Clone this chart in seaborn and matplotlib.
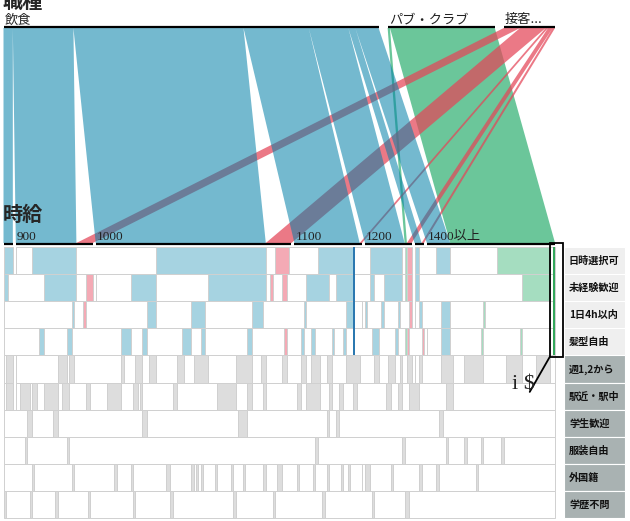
import numpy as np
import seaborn as sns
import matplotlib
matplotlib.use("Agg")
import matplotlib.pyplot as plt
from matplotlib.patches import Rectangle, PathPatch
from matplotlib.path import Path

# ---------------- data ----------------
job_types = ["飲食", "パブ・クラブ", "接客..."]
wage_labels = ["", "900", "1000", "1100", "1200", "", "1400以上"]
# number of jobs in each wage bracket, per job type
count_food = [4, 26, 73, 28, 17, 3, 10]
count_pub = [0, 0, 0, 0, 1, 0, 45]
count_host = [0, 7, 11, 1, 2, 1, 0]

attr_names = ["日時選択可", "未経験歓迎", "1日4h以内", "髪型自由", "週1,2から",
              "駅近・駅中", "学生歓迎", "服装自由", "外国籍", "学歴不問"]
# jobs (ordered by wage, then job type) having each attribute: inclusive index ranges
attr_0 = [(0, 3), (11, 29), (63, 109), (114, 119), (131, 145), (152, 165), (167, 169),
          (170, 171), (178, 183), (204, 226)]
attr_1 = [(0, 1), (16, 29), (34, 36), (52, 62), (85, 109), (112, 112), (117, 118), (126, 135),
          (139, 145), (152, 153), (158, 165), (167, 169), (170, 171), (215, 226)]
attr_2 = [(28, 28), (33, 33), (59, 62), (78, 83), (104, 108), (125, 125), (143, 145), (150, 150),
          (157, 157), (164, 164), (169, 169), (172, 172), (180, 183), (198, 198)]
attr_3 = [(14, 15), (26, 27), (48, 51), (57, 58), (74, 77), (82, 83), (102, 103), (118, 118),
          (124, 124), (128, 129), (137, 137), (142, 142), (153, 155), (163, 163), (167, 168),
          (173, 173), (180, 183), (197, 197), (214, 214)]
attr_4 = [(1, 3), (22, 25), (27, 28), (48, 48), (54, 56), (60, 62), (72, 74), (79, 84), (97, 103),
          (108, 109), (117, 118), (124, 125), (128, 131), (135, 136), (143, 148), (154, 155),
          (160, 162), (165, 165), (168, 169), (172, 172), (180, 184), (190, 197), (208, 214),
          (221, 226)]
attr_5 = [(1, 3), (6, 9), (11, 12), (16, 21), (24, 26), (34, 35), (42, 47), (53, 54), (56, 56),
          (70, 71), (89, 96), (102, 103), (109, 109), (122, 123), (126, 131), (136, 136),
          (140, 141), (146, 147), (159, 160), (164, 165), (169, 171), (182, 184)]
attr_6 = [(9, 10), (20, 21), (57, 58), (98, 101), (135, 135), (139, 139), (179, 180)]
attr_7 = [(8, 8), (26, 26), (130, 130), (166, 166), (182, 182), (190, 190), (197, 197), (206, 206)]
attr_8 = [(11, 11), (28, 28), (45, 45), (52, 52), (67, 68), (78, 78), (80, 80), (82, 82), (88, 88),
          (95, 95), (100, 100), (109, 109), (115, 116), (122, 122), (129, 129), (135, 135),
          (141, 141), (144, 144), (150, 151), (161, 161), (172, 172), (178, 178), (195, 195)]
attr_9 = [(0, 0), (10, 10), (21, 21), (35, 35), (53, 53), (69, 69), (96, 96), (113, 113),
          (133, 133), (153, 153), (167, 168)]
selected_rows = 4          # first 4 attributes are active (coloured)
highlight_jobs = [146, 228]
annotated_job = 228
annotation_text = "i $"

# ---------------- style ----------------
sns.set_theme(style="white")
plt.rcParams["font.family"] = ["Noto Sans CJK JP", "DejaVu Sans"]
ribbon_base = ["#0280a8", "#2daf70", "#e44558"]
ribbon_alpha = [0.55, 0.7, 0.72]
ribbon_z = [3, 1, 2]
light_col = ["#a6d3e1", "#a5ddc0", "#f4aab5"]
dark_col = ["#2b78b0", "#34a85c", "#d8404f"]
gray_fill = "#dddddd"
border = "#d0d0d0"

fig = plt.figure(figsize=(6.3, 5.21), dpi=100)
ax = fig.add_axes([0, 0, 1, 1])
ax.set_xlim(0, 630)
ax.set_ylim(521, 0)
ax.axis("off")

counts = np.array([count_food, count_pub, count_host])
n_t, n_w = counts.shape
u = 2.33
x0 = 3.5
gap_top, gap_bot = 9.0, 3.0
y_top_axis, y_bot_axis = 27.0, 244.0
y_rib0, y_rib1 = 28.0, 243.0

type_tot = counts.sum(axis=1)
wage_tot = counts.sum(axis=0)
tstart = x0 + np.concatenate([[0], np.cumsum(type_tot * u + gap_top)[:-1]])
bstart = x0 + np.concatenate([[0], np.cumsum(wage_tot * u + gap_bot)[:-1]])

# jobs ordered by wage bracket then type
job_x, job_t, job_w = [], [], []
for w in range(n_w):
    xx = bstart[w]
    for t in range(n_t):
        for _ in range(counts[t, w]):
            job_x.append(xx); job_t.append(t); job_w.append(w)
            xx += u
job_x = np.array(job_x); N = len(job_x)

# ---------------- ribbons ----------------
for t in range(n_t):
    verts, codes = [], []
    for w in range(n_w):
        c = counts[t, w]
        if c == 0:
            continue
        tx0 = tstart[t] + u * counts[t, :w].sum()
        bx0 = bstart[w] + u * counts[:t, w].sum()
        pts = [(tx0, y_rib0), (tx0 + c * u, y_rib0), (bx0 + c * u, y_rib1), (bx0, y_rib1), (tx0, y_rib0)]
        verts += pts
        codes += [Path.MOVETO, Path.LINETO, Path.LINETO, Path.LINETO, Path.CLOSEPOLY]
    ax.add_patch(PathPatch(Path(verts, codes), facecolor=ribbon_base[t], edgecolor="none",
                           alpha=ribbon_alpha[t], zorder=ribbon_z[t]))

# axes lines and labels
for t in range(n_t):
    ax.plot([tstart[t], tstart[t] + type_tot[t] * u], [y_top_axis] * 2, color="black", lw=1.6,
            zorder=6, solid_capstyle="butt")
    ax.text(tstart[t] + 1, 23.5, job_types[t], fontsize=9.5, va="baseline", ha="left",
            color="#222222", zorder=7)
for w in range(n_w):
    ax.plot([bstart[w], bstart[w] + wage_tot[w] * u], [y_bot_axis] * 2, color="black", lw=1.6,
            zorder=6, solid_capstyle="butt")
    ax.text(bstart[w] + 1, 240, wage_labels[w], fontsize=9.5, va="baseline", ha="left",
            family=["Liberation Serif", "Noto Sans CJK JP"], color="#222222", zorder=7)
ax.text(3, 7.5, "職種", fontsize=14.5, fontweight="bold", va="baseline", ha="left", zorder=7)
ax.text(3, 221, "時給", fontsize=14.5, fontweight="bold", va="baseline", ha="left", zorder=7)

# ---------------- matrix ----------------
row_y0, row_h = 247.0, 27.1
attr_rows = [attr_0, attr_1, attr_2, attr_3, attr_4, attr_5, attr_6, attr_7, attr_8, attr_9]
for r, ranges in enumerate(attr_rows):
    flags = np.zeros(N, bool)
    for a, b in ranges:
        flags[a:b + 1] = True
    y = row_y0 + r * row_h
    j = 0
    while j < N:
        k = j
        while (k + 1 < N and flags[k + 1] == flags[j]
               and (not flags[j] or r >= selected_rows or job_t[k + 1] == job_t[j])):
            k += 1
        if flags[j]:
            fc = light_col[job_t[j]] if r < selected_rows else gray_fill
        else:
            fc = "white"
        ax.add_patch(Rectangle((job_x[j], y), job_x[k] + u - job_x[j], row_h, facecolor=fc,
                               edgecolor=border, lw=0.7, zorder=4))
        j = k + 1

for j in highlight_jobs:
    ax.add_patch(Rectangle((job_x[j], row_y0), u, row_h * selected_rows, facecolor=dark_col[job_t[j]],
                           edgecolor="none", zorder=5))

# row labels
lab_x0, lab_x1 = 564, 625
for r, name in enumerate(attr_names):
    y = row_y0 + r * row_h
    fc = "#efefef" if r < selected_rows else "#a9b2b2"
    ax.add_patch(Rectangle((lab_x0, y), lab_x1 - lab_x0, row_h, facecolor=fc, edgecolor="white",
                           lw=0.8, zorder=4))
    ax.text(lab_x0 + 5, y + row_h / 2 + 0.5, name, fontsize=7.3, fontweight="bold", va="center",
            ha="left", color="#111111", zorder=6)

# annotation box
bx0 = job_x[annotated_job] - 3.0
bx1 = job_x[annotated_job] + u + 8.0
by0, by1 = y_bot_axis - 1, row_y0 + row_h * selected_rows + 1.5
ax.add_patch(Rectangle((bx0, by0), bx1 - bx0, by1 - by0, facecolor="none", edgecolor="black",
                       lw=1.3, zorder=8))
ax.plot([bx0, bx0 - 20], [by1, by1 + 35], color="black", lw=1.3, zorder=8)
ax.text(bx0 - 15, by1 + 28, annotation_text, fontsize=16, family=["Liberation Serif"],
        ha="right", va="center", color="#222222", zorder=8)

fig.savefig("out.png", dpi=100)
